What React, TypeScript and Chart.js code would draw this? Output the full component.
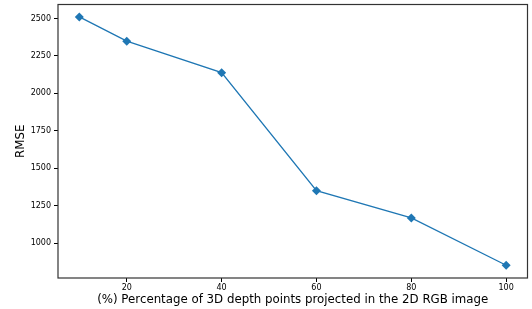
import React, { useEffect, useRef } from "react";
import { Chart, registerables } from "chart.js";

Chart.register(...registerables);

const xValues = [10, 20, 40, 60, 80, 100];
const rmseValues = [2510, 2348, 2138, 1350, 1168, 852];
const xTicks = [20, 40, 60, 80, 100];
const yTicks = [1000, 1250, 1500, 1750, 2000, 2250, 2500];
const xTitle = "(%) Percentage of 3D depth points projected in the 2D RGB image";
const yTitle = "RMSE";

const FONT = "'DejaVu Sans', sans-serif";

const framePlugin = {
  id: "frame",
  afterDraw(chart: any) {
    const { ctx, chartArea } = chart;
    ctx.save();
    ctx.strokeStyle = "#333";
    ctx.lineWidth = 1.2;
    ctx.strokeRect(chartArea.left, chartArea.top, chartArea.right - chartArea.left, chartArea.bottom - chartArea.top);
    ctx.restore();
  },
};

export default function App() {
  const ref = useRef<HTMLCanvasElement>(null);
  useEffect(() => {
    if (!ref.current) return;
    const chart = new Chart(ref.current, {
      type: "line",
      data: {
        datasets: [
          {
            data: xValues.map((x, i) => ({ x, y: rmseValues[i] })),
            borderColor: "#1f77b4",
            backgroundColor: "#1f77b4",
            borderWidth: 1.3,
            pointStyle: "rectRot",
            pointRadius: 4.5,
            pointBorderWidth: 0,
            tension: 0,
          },
        ],
      },
      options: {
        responsive: false,
        animation: false,
        plugins: { legend: { display: false }, tooltip: { enabled: false } },
        layout: { padding: { left: 0, right: 2.5, top: 2.5, bottom: 0 } },
        scales: {
          x: {
            type: "linear",
            min: 5.5,
            max: 104.5,
            afterBuildTicks: (s: any) => {
              s.ticks = xTicks.map((v) => ({ value: v }));
            },
            afterFit: (s: any) => {
              s.height = 31;
              s.paddingLeft = 0;
              s.paddingRight = 0;
            },
            grid: { drawOnChartArea: false, tickLength: 4, color: "#000", tickWidth: 1 },
            border: { display: false },
            ticks: {
              color: "#000",
              padding: 1,
              font: { family: FONT, size: 8 },
              maxRotation: 0,
              callback: (v: any) => String(v),
            },
            title: {
              display: true,
              text: xTitle,
              color: "#000",
              font: { family: FONT, size: 11.8 },
              padding: { top: 0, bottom: 2 },
            },
          },
          y: {
            type: "linear",
            min: 767,
            max: 2593,
            afterBuildTicks: (s: any) => {
              s.ticks = yTicks.map((v) => ({ value: v }));
            },
            afterFit: (s: any) => {
              s.width = 58;
              s.paddingTop = 0;
              s.paddingBottom = 0;
            },
            grid: { drawOnChartArea: false, tickLength: 4, color: "#000", tickWidth: 1 },
            border: { display: false },
            ticks: {
              color: "#000",
              padding: 3,
              font: { family: FONT, size: 8 },
              callback: (v: any) => String(v),
            },
            title: {
              display: true,
              text: yTitle,
              color: "#000",
              font: { family: FONT, size: 11.8 },
              padding: { top: 14, bottom: 0 },
            },
          },
        },
      },
      plugins: [framePlugin],
    });
    return () => chart.destroy();
  }, []);
  return (
    <div style={{ position: "fixed", left: 0, top: 0, width: 532, height: 309, background: "#fff" }}>
      <canvas ref={ref} width={532} height={309} style={{ display: "block" }} />
    </div>
  );
}
